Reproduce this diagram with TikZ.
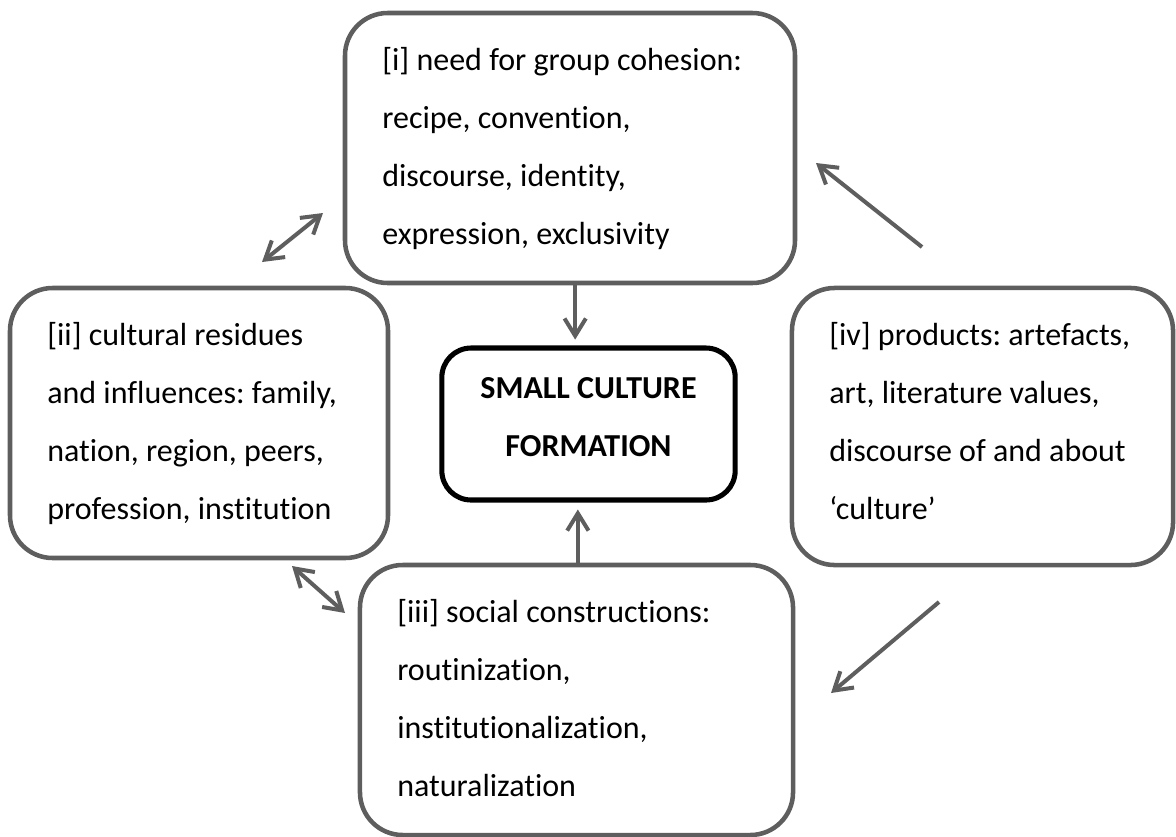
\documentclass[tikz,border=0pt]{standalone}
\usepackage{fontspec}
\setmainfont{Carlito}[Ligatures={NoCommon}]
\usetikzlibrary{arrows.meta}

\frenchspacing
\hyphenpenalty=10000

\definecolor{framegray}{HTML}{5E5E5E}

\tikzset{
  ideabox/.style={draw=framegray, line width=1.7pt, rounded corners=16pt,
    align=flush left, inner xsep=14pt, inner ysep=0pt, minimum height=101.25pt,
    text height=9pt, text depth=67.5pt, font=\fontsize{12}{21.75}\selectfont,
    execute at begin node={\spaceskip=0pt\xspaceskip=0pt}},
  corebox/.style={draw=black, line width=1.9pt, rounded corners=11pt,
    align=flush center, text width=90pt, inner xsep=10pt, inner ysep=0pt,
    minimum height=57pt, text height=8pt, text depth=27.5pt,
    font=\bfseries\fontsize{12}{22}\selectfont,
    execute at begin node={\spaceskip=0pt\xspaceskip=0pt}},
  barb/.tip={Straight Barb[length=6.5pt,width=8pt]},
  link/.style={draw=framegray, line width=1.5pt, -barb},
  twoway/.style={draw=framegray, line width=1.5pt, barb-barb}
}

\begin{document}
\begin{tikzpicture}[x=0.375pt, y=-0.375pt]
  % Fix the page to the size of the figure
  \useasboundingbox (0,0) rectangle (1176,836);

  % The four boxes round the centre
  \node[ideabox, text width=140.75pt] (need) at (570,148)
    {[i] need for group cohesion:\\recipe, convention,\\discourse, identity,\\expression, exclusivity};
  \node[ideabox, text width=113.75pt] (residue) at (199,423)
    {[ii] cultural residues\\and influences: family,\\nation, region, peers,\\profession, institution};
  \node[ideabox, text width=114.9pt, minimum height=103.9pt, text depth=70pt] (product) at (982.5,426.5)
    {[iv] products: artefacts,\\art, literature values,\\discourse of and about\\‘culture’};
  \node[ideabox, text width=134.4pt] (social) at (576.5,700)
    {[iii] social constructions:\\routinization,\\institutionalization,\\naturalization};

  % The centre box
  \node[corebox] (core) at (588.5,424) {SMALL CULTURE\\FORMATION};

  % Ends of the free arrows
  \coordinate (tl1) at (262,262);
  \coordinate (tl2) at (323,213);
  \coordinate (bl1) at (292,566);
  \coordinate (bl2) at (345,613);
  \coordinate (tr1) at (922,247);
  \coordinate (tr2) at (816,163);
  \coordinate (br1) at (939,602);
  \coordinate (br2) at (831,693);

  % Arrows into the centre box
  \coordinate (downx) at ([xshift=-5pt]core.north);
  \coordinate (upx) at ([xshift=-4pt]core.south);
  \draw[link] (downx |- need.south) -- ([yshift=2.2pt]downx);
  \draw[link] (upx |- social.north) -- ([yshift=-2.6pt]upx);

  % Arrows between the outer boxes
  \draw[twoway] (tl1) -- (tl2);
  \draw[twoway] (bl1) -- (bl2);
  \draw[link] (tr1) -- (tr2);
  \draw[link] (br1) -- (br2);

\end{tikzpicture}
\end{document}
